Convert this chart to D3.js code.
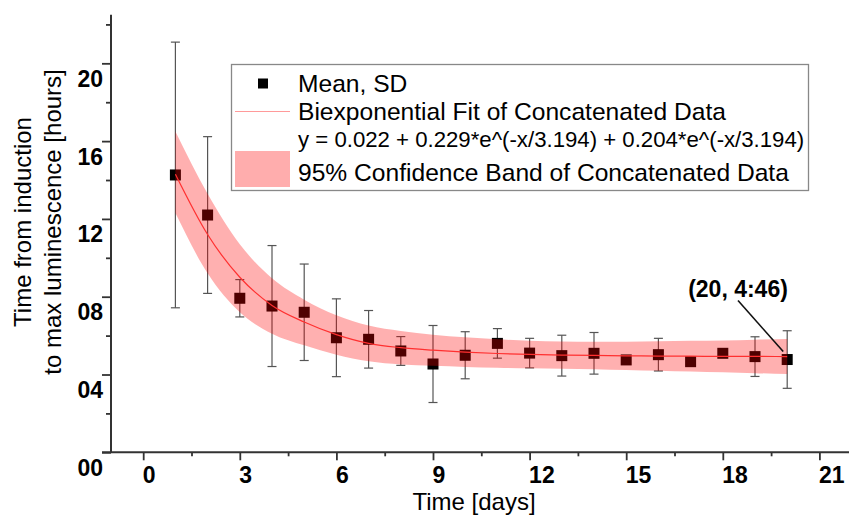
<!doctype html>
<html>

<head>
    <meta charset="utf-8">
    <title>Time to max luminescence</title>
    <style>
    body { margin: 0; background: #fff; }
    svg { font-family: "Liberation Sans", Arial, sans-serif; }
    .tick line { stroke: #333; stroke-width: 1.8px; }
    .tick text { font-weight: bold; font-size: 23px; fill: #000; }
    </style>
    <script src="https://cdn.jsdelivr.net/npm/d3@7"></script>
</head>

<body>
    <svg width="849" height="516"></svg>
    <script>
    // data (hours)
    var days = [1, 2, 3, 4, 5, 6, 7, 8, 9, 10, 11, 12, 13, 14, 15, 16, 17, 18, 19, 20];
    var meanHours = [14.26, 12.2, 7.92, 7.52, 7.2, 5.89, 5.81, 5.21, 4.54, 4.99, 5.6, 5.1, 4.97, 5.09, 4.75, 5.02, 4.66, 5.09, 4.92, 4.77];
    var sdHours = [6.83, 4.03, 0.96, 3.11, 2.48, 2.0, 1.48, 0.74, 1.98, 1.21, 0.76, 0.76, 1.05, 1.07, null, 0.84, null, null, 1.02, 1.48];
    var fitHours = [14.3, 11.2, 9.0, 7.55, 6.7, 6.05, 5.6, 5.38, 5.25, 5.15, 5.08, 5.03, 5.0, 4.98, 4.96, 4.95, 4.94, 4.93, 4.93, 4.92];
    var bandHigh = [16.5, 13.3, 10.7, 8.95, 7.85, 7.05, 6.52, 6.24, 6.05, 5.91, 5.81, 5.74, 5.7, 5.69, 5.69, 5.71, 5.73, 5.75, 5.79, 5.82];
    var bandLow = [12.3, 9.2, 7.2, 6.1, 5.5, 5.02, 4.68, 4.52, 4.45, 4.39, 4.35, 4.32, 4.3, 4.27, 4.23, 4.19, 4.15, 4.11, 4.07, 4.02];
    var xTicks = [0, 3, 6, 9, 12, 15, 18, 21];
    var xMinor = [1.5, 4.5, 7.5, 10.5, 13.5, 16.5, 19.5];
    var yTicks = [0, 4, 8, 12, 16, 20];
    var yMinor = [2, 6, 10, 14, 18, 22];
    var legendLabels = ["Mean, SD", "Biexponential Fit of Concatenated Data",
        "y = 0.022 + 0.229*e^(-x/3.194) + 0.204*e^(-x/3.194)", "95% Confidence Band of Concatenated Data"];
    var callout = { day: 20, text: "(20, 4:46)" };

    var svg = d3.select("svg");

    var x = d3.scaleLinear().domain([-1, 22]).range([111, 851.6]);
    var y = d3.scaleLinear().domain([0, 22.5]).range([452.3, 14.7]);

    var rows = days.map(function(d, i) {
        return { d: d, m: meanHours[i], sd: sdHours[i], f: fitHours[i], lo: bandLow[i], hi: bandHigh[i] };
    });

    // error bars
    var eb = svg.append("g").attr("stroke", "#555").attr("stroke-width", 1.2);
    rows.filter(function(r) { return r.sd != null; }).forEach(function(r) {
        eb.append("line").attr("x1", x(r.d)).attr("x2", x(r.d)).attr("y1", y(r.m - r.sd)).attr("y2", y(r.m + r.sd));
        [r.m - r.sd, r.m + r.sd].forEach(function(v) {
            eb.append("line").attr("x1", x(r.d) - 4.5).attr("x2", x(r.d) + 4.5).attr("y1", y(v)).attr("y2", y(v));
        });
    });

    // mean markers
    svg.append("g").selectAll("rect")
        .data(rows)
        .enter().append("rect")
        .attr("x", function(r) { return x(r.d) - 5.5; })
        .attr("y", function(r) { return y(r.m) - 5.5; })
        .attr("width", 11)
        .attr("height", 11)
        .attr("fill", "#000");

    // confidence band drawn over the markers
    var area = d3.area()
        .x(function(r) { return x(r.d); })
        .y0(function(r) { return y(r.lo); })
        .y1(function(r) { return y(r.hi); })
        .curve(d3.curveMonotoneX);
    svg.append("path").datum(rows)
        .attr("d", area)
        .attr("fill", "#ff0000")
        .attr("fill-opacity", 0.31);

    var line = d3.line()
        .x(function(r) { return x(r.d); })
        .y(function(r) { return y(r.f); })
        .curve(d3.curveMonotoneX);
    svg.append("path").datum(rows)
        .attr("d", line)
        .attr("fill", "none")
        .attr("stroke", "#ff3030")
        .attr("stroke-width", 1.2);

    // axes
    var gx = svg.append("g").attr("transform", "translate(0," + y(0) + ")");
    gx.call(d3.axisBottom(x).tickValues(xTicks).tickSize(8).tickPadding(6.5).tickFormat(d3.format("d")));
    gx.selectAll(".tick text").attr("text-anchor", "start").attr("x", -1);
    gx.select(".domain").remove();
    var gxm = svg.append("g").attr("transform", "translate(0," + y(0) + ")");
    gxm.call(d3.axisBottom(x).tickValues(xMinor).tickSize(4).tickFormat(""));
    gxm.select(".domain").remove();

    var gy = svg.append("g").attr("transform", "translate(" + x(-1) + ",0)");
    gy.call(d3.axisLeft(y).tickValues(yTicks).tickSize(9).tickPadding(-1).tickFormat(d3.format("02d")));
    gy.selectAll(".tick text").attr("dy", "1.0em");
    gy.select(".domain").remove();
    var gym = svg.append("g").attr("transform", "translate(" + x(-1) + ",0)");
    gym.call(d3.axisLeft(y).tickValues(yMinor).tickSize(5).tickFormat(""));
    gym.select(".domain").remove();

    svg.append("line").attr("x1", x(-1) - 9).attr("x2", 849).attr("y1", y(0)).attr("y2", y(0))
        .attr("stroke", "#333").attr("stroke-width", 2);
    svg.append("line").attr("x1", x(-1)).attr("x2", x(-1)).attr("y1", y(0)).attr("y2", y(22.5))
        .attr("stroke", "#333").attr("stroke-width", 2);

    // axis titles
    svg.append("text").attr("x", 474).attr("y", 510).attr("text-anchor", "middle")
        .attr("font-size", 24).text("Time [days]");
    var yt = svg.append("text").attr("transform", "translate(0,222) rotate(-90)")
        .attr("text-anchor", "middle").attr("font-size", 24);
    yt.append("tspan").attr("x", 0).attr("y", 31).text("Time from induction");
    yt.append("tspan").attr("x", 0).attr("y", 61).text("to max luminescence [hours]");

    // legend
    var lg = svg.append("g");
    lg.append("rect").attr("x", 231.5).attr("y", 64.5).attr("width", 577).attr("height", 126)
        .attr("fill", "#fff").attr("stroke", "#888").attr("stroke-width", 1.3);
    lg.append("rect").attr("x", 258).attr("y", 78.5).attr("width", 10).attr("height", 10).attr("fill", "#000");
    lg.append("line").attr("x1", 235).attr("x2", 290).attr("y1", 111.5).attr("y2", 111.5)
        .attr("stroke", "#ff9a9a").attr("stroke-width", 1.2);
    lg.append("rect").attr("x", 235).attr("y", 151).attr("width", 55).attr("height", 36).attr("fill", "#ffadad");
    var ly = [83, 111.5, 139, 172.5];
    var lsize = [24.6, 24.6, 22.2, 24.6];
    legendLabels.forEach(function(t, i) {
        lg.append("text").attr("x", 298).attr("y", ly[i]).attr("dominant-baseline", "central")
            .attr("font-size", lsize[i]).text(t);
    });

    // callout for last point
    var ci = days.indexOf(callout.day);
    svg.append("line").attr("x1", 738).attr("y1", 300.5)
        .attr("x2", x(callout.day) - 4).attr("y2", y(meanHours[ci]) - 8)
        .attr("stroke", "#111").attr("stroke-width", 1.6);
    svg.append("text").attr("x", 738).attr("y", 289).attr("text-anchor", "middle")
        .attr("dominant-baseline", "central").attr("font-size", 23).attr("font-weight", "bold")
        .text(callout.text);
    </script>
</body>

</html>
